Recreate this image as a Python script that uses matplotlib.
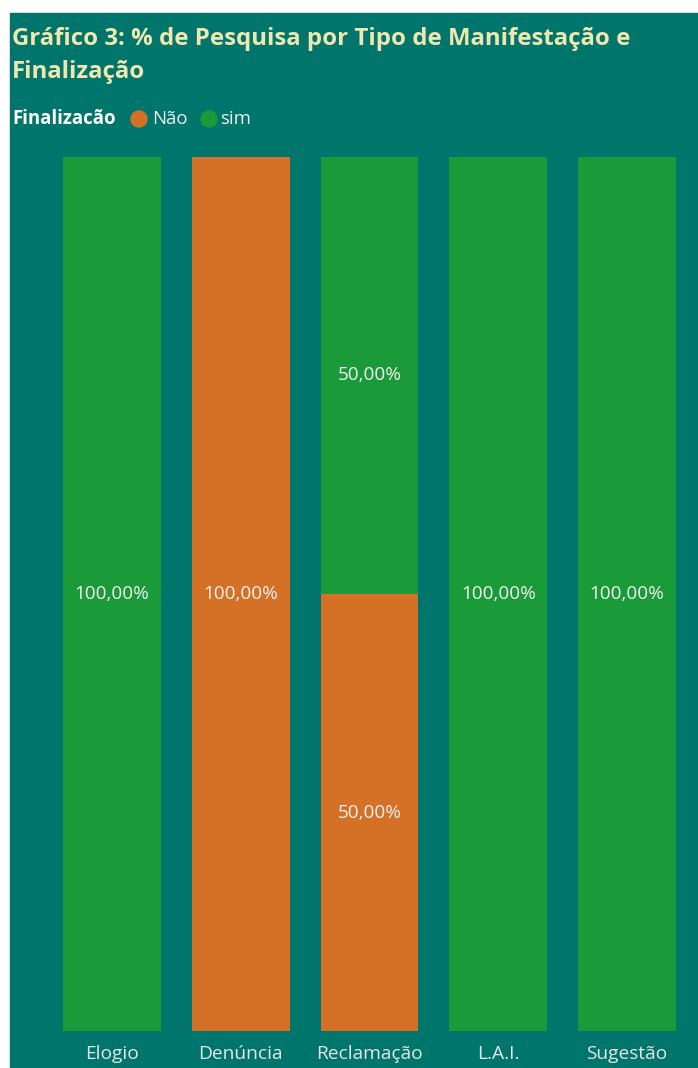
import matplotlib.pyplot as plt
from matplotlib.patches import Ellipse
import numpy as np

categorias = ['Elogio', 'Denúncia', 'Reclamação', 'L.A.I.', 'Sugestão']
nao = [0, 100, 50, 0, 0]
sim = [100, 0, 50, 100, 100]

bg = '#00756B'
cor_nao = '#D57127'
cor_sim = '#1B9A3A'
fonte = ['Open Sans', 'DejaVu Sans']

W, H = 698, 1068
fig = plt.figure(figsize=(W / 100, H / 100), dpi=100)
fig.patch.set_facecolor('white')
# fundo teal (a partir de x=10, y=13)
fig.patches.append(plt.Rectangle((10 / W, 0), 1, 1 - 13 / H,
                                 transform=fig.transFigure, color=bg, zorder=-1))

ax = fig.add_axes([47.5 / W, 1 - 1031 / H, 644 / W, 874 / H])
ax.set_facecolor(bg)
x = np.arange(len(categorias))
ax.bar(x, nao, width=0.76, color=cor_nao)
ax.bar(x, sim, width=0.76, bottom=nao, color=cor_sim)

for i in range(len(categorias)):
    if nao[i] > 0:
        ax.text(x[i], nao[i] / 2, f'{nao[i]:.2f}%'.replace('.', ','),
                ha='center', va='center', color='#F2F2F2', fontsize=13.6, family=fonte)
    if sim[i] > 0:
        ax.text(x[i], nao[i] + sim[i] / 2, f'{sim[i]:.2f}%'.replace('.', ','),
                ha='center', va='center', color='#F2F2F2', fontsize=13.6, family=fonte)

ax.set_xlim(-0.5, 4.5)
ax.set_ylim(0, 100)
ax.set_yticks([])
ax.set_xticks(x)
ax.set_xticklabels(categorias, color='#E6E6E6', fontsize=13.8, family=fonte)
ax.tick_params(axis='x', length=0, pad=10)
for s in ax.spines.values():
    s.set_visible(False)

# titulo
fig.text(12 / W, 1 - 45 / H, 'Gráfico 3: % de Pesquisa por Tipo de Manifestação e',
         color='#F0E6B0', fontsize=17.3, fontweight='bold', family=fonte, va='baseline')
fig.text(12 / W, 1 - 78 / H, 'Finalização',
         color='#F0E6B0', fontsize=17.3, fontweight='bold', family=fonte, va='baseline')

# legenda
ly = 1 - 119 / H
fig.text(12 / W, ly, 'Finalizacão', color='white', fontsize=13.4,
         fontweight='bold', family=fonte, va='center')
fig.patches.append(Ellipse((139 / W, ly), 16 / W, 16 / H, transform=fig.transFigure,
                           color=cor_nao))
fig.text(152 / W, ly, 'Não', color='#EDEDED', fontsize=13.4, family=fonte, va='center')
fig.patches.append(Ellipse((209 / W, ly), 16 / W, 16 / H, transform=fig.transFigure,
                           color=cor_sim))
fig.text(220 / W, ly, 'sim', color='#EDEDED', fontsize=13.4, family=fonte, va='center')

fig.savefig('out.png', dpi=100, facecolor=fig.get_facecolor())
